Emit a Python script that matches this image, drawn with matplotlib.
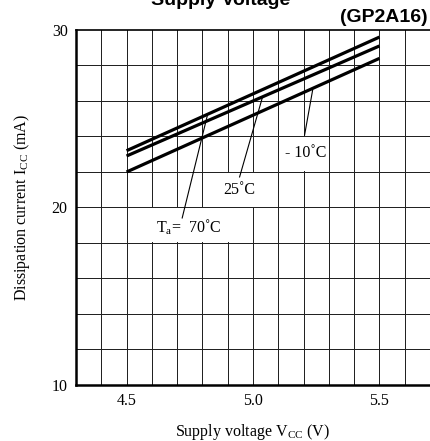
import matplotlib
matplotlib.use("Agg")
import matplotlib.pyplot as plt
from matplotlib.patches import Rectangle
import numpy as np

plt.rcParams["font.family"] = ["Liberation Serif", "DejaVu Serif"]
plt.rcParams["mathtext.fontset"] = "custom"
plt.rcParams["mathtext.rm"] = "Liberation Serif"

# supply voltage (V) and dissipation current (mA) for each ambient temperature
voltage = [4.5, 5.5]
icc_70 = [23.2, 29.6]
icc_25 = [22.9, 29.1]
icc_m10 = [22.0, 28.4]

x_ticks = [4.5, 5.0, 5.5]
x_tick_labels = ["4.5", "5.0", "5.5"]
y_ticks = [10, 20, 30]
y_tick_labels = ["10", "20", "30"]

fig = plt.figure(figsize=(4.3, 4.41), dpi=100)
ax = fig.add_axes([0.1767, 0.127, 0.8233, 0.805])

# grid: every 0.1 V and every 2 mA
for xv in np.arange(4.4, 5.65, 0.1):
    ax.axvline(xv, color="#222222", lw=0.72, zorder=1)
for yv in np.arange(12, 30, 2):
    ax.axhline(yv, color="#222222", lw=0.72, zorder=1)

# white label cells hiding the grid
for (x0, y0, w, h) in [(4.5, 18, 0.5, 2), (4.8, 20, 0.3, 2), (5.1, 22, 0.2, 2)]:
    ax.add_patch(Rectangle((x0 + 0.004, y0 + 0.05), w - 0.008, h - 0.1,
                           facecolor="white", edgecolor="none", zorder=2))

ax.plot(voltage, icc_70, color="black", lw=2.3, zorder=4, solid_capstyle="butt")
ax.plot(voltage, icc_25, color="black", lw=2.3, zorder=4, solid_capstyle="butt")
ax.plot(voltage, icc_m10, color="black", lw=2.3, zorder=4, solid_capstyle="butt")

# leader lines
ax.plot([4.72, 4.82], [19.41, 25.21], color="black", lw=0.8, zorder=3)
ax.plot([4.947, 5.038], [21.72, 26.24], color="black", lw=0.8, zorder=3)
ax.plot([5.204, 5.236], [24.08, 26.62], color="black", lw=0.8, zorder=3)

ax.text(4.745, 18.92, r"T$_{\rm a}$=  70˚C", ha="center", va="center",
        fontsize=11.5, zorder=5)
ax.text(4.947, 20.99, "25˚C", ha="center", va="center", fontsize=11.5, zorder=5)
ax.text(5.21, 23.07, "- 10˚C", ha="center", va="center", fontsize=11.5, zorder=5)

ax.set_xlim(4.3, 5.7)
ax.set_ylim(10, 30)
ax.set_xticks(x_ticks)
ax.set_xticklabels(x_tick_labels)
ax.set_yticks(y_ticks)
ax.set_yticklabels(y_tick_labels)
ax.tick_params(length=0, labelsize=11.5, pad=6)
for side in ["left", "bottom"]:
    ax.spines[side].set_linewidth(1.8)
ax.spines["top"].set_linewidth(1.2)
ax.spines["right"].set_visible(False)

ax.set_xlabel(r"Supply voltage V$_{\rm CC}$ (V)", fontsize=11.5, labelpad=9)
ax.set_ylabel(r"Dissipation current I$_{\rm CC}$ (mA)", fontsize=11.5, labelpad=14)

fig.text(0.675, 1 - 5 / 441, "Supply Voltage", ha="right", va="baseline",
         fontsize=14, fontweight="bold", family="Liberation Sans")
fig.text(0.995, 1 - 22 / 441, "(GP2A16)", ha="right", va="baseline",
         fontsize=14, fontweight="bold", family="Liberation Sans")

fig.savefig("out.png", dpi=100)
